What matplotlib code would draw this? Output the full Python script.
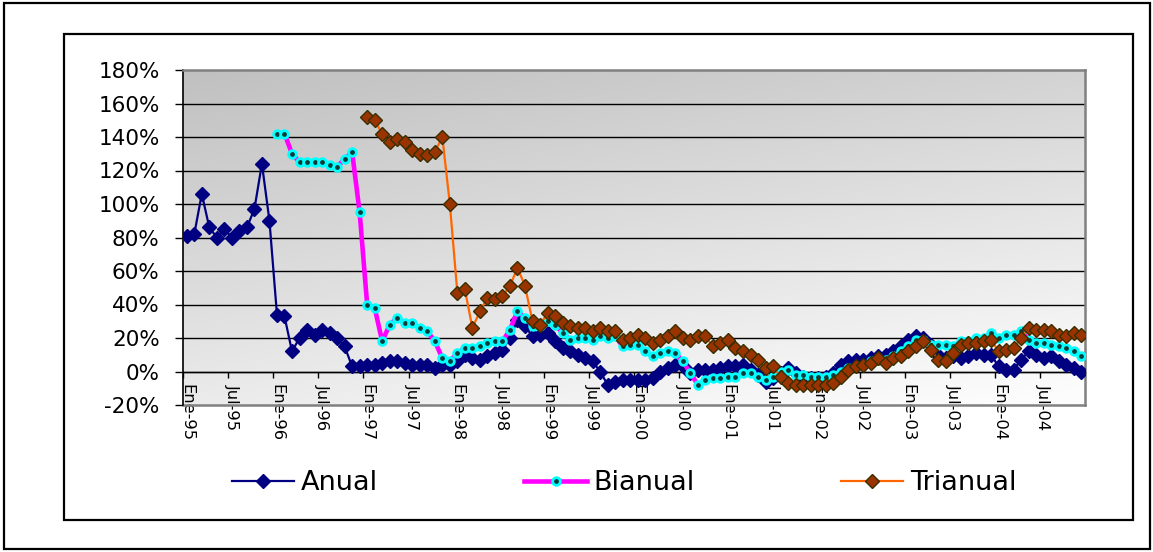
import numpy as np
import matplotlib
matplotlib.use("Agg")
import matplotlib.pyplot as plt
from matplotlib.patches import Rectangle

# ---- data (percent variation, monthly Ene-95 .. Dic-04) ----
month_names = ["Ene", "Feb", "Mar", "Abr", "May", "Jun",
               "Jul", "Ago", "Sep", "Oct", "Nov", "Dic"]
year_codes = ["95", "96", "97", "98", "99", "00", "01", "02", "03", "04"]
periods = [f"{m}-{y}" for y in year_codes for m in month_names]

anual = [
    81, 82, 106, 86, 80, 85, 80, 84, 86, 97, 124, 90,
    34, 33, 12, 20, 25, 22, 25, 23, 20, 15, 3, 3,
    4, 4, 5, 6, 6, 5, 4, 4, 4, 2, 4, 4,
    6, 10, 8, 7, 9, 11, 13, 20, 31, 27, 21, 22,
    23, 18, 14, 12, 10, 8, 6, 0, -8, -6, -5, -5,
    -5, -5, -4, 0, 2, 4, 3, -1, 1, 1, 1, 2,
    3, 3, 4, 1, -2, -6, -4, -1, 2, -1, -3, -4,
    -4, -3, -1, 4, 6, 7, 7, 8, 9, 10, 12, 15,
    19, 21, 20, 16, 10, 8, 9, 8, 9, 11, 10, 10,
    3, 1, 1, 7, 12, 10, 8, 9, 6, 4, 2, 0,
]

# starts Ene-96
bianual = [
    142, 142, 130, 125, 125, 125, 125, 123, 122, 127, 131, 95,
    40, 38, 18, 28, 32, 29, 29, 26, 24, 18, 8, 6,
    11, 14, 14, 15, 17, 18, 18, 25, 36, 32, 27, 27,
    30, 28, 23, 19, 20, 20, 19, 21, 20, 21, 15, 16,
    16, 12, 9, 11, 12, 11, 6, -1, -8, -5, -4, -4,
    -3, -3, -1, -1, -3, -5, -3, 0, 1, -2, -2, -3,
    -3, -3, -2, 0, 2, 3, 4, 6, 7, 7, 9, 12,
    15, 19, 19, 16, 16, 16, 15, 18, 18, 20, 20, 23,
    20, 22, 22, 24, 19, 17, 17, 16, 15, 14, 12, 9,
]

# starts Ene-97
trianual = [
    152, 150, 142, 137, 139, 137, 132, 130, 129, 131, 140, 100,
    47, 49, 26, 36, 44, 43, 45, 51, 62, 51, 30, 28,
    35, 33, 29, 27, 26, 26, 24, 26, 24, 24, 19, 20,
    22, 20, 17, 19, 21, 24, 20, 19, 21, 21, 15, 17,
    19, 14, 12, 10, 7, 2, 3, -3, -7, -8, -8, -8,
    -8, -8, -7, -3, 1, 3, 4, 5, 8, 5, 8, 9,
    12, 15, 18, 13, 7, 6, 11, 16, 17, 17, 18, 19,
    12, 13, 14, 20, 26, 25, 25, 24, 22, 21, 23, 22,
]

series_names = ["Anual", "Bianual", "Trianual"]
y_ticks = list(range(-20, 181, 20))

# ---- figure ----
W, H = 1153, 552
fig = plt.figure(figsize=(W / 100, H / 100), dpi=100)
fig.patch.set_facecolor("white")


def px_rect(left, top, right, bottom, **kw):
    return Rectangle((left / W, 1 - bottom / H), (right - left) / W,
                     (bottom - top) / H, transform=fig.transFigure,
                     fill=False, **kw)


fig.patches.append(px_rect(4, 3, 1150, 549, lw=1.6, edgecolor="black"))
fig.patches.append(px_rect(64, 34, 1133, 520, lw=1.6, edgecolor="black"))

pl, pt, pr, pb = 183, 70, 1085, 405
ax = fig.add_axes([pl / W, 1 - pb / H, (pr - pl) / W, (pb - pt) / H])

n = len(anual)
x_all = np.arange(n)
x_bi = np.arange(n - len(bianual), n)
x_tri = np.arange(n - len(trianual), n)

ax.set_xlim(-0.5, n - 0.5)
ax.set_ylim(y_ticks[0], y_ticks[-1])

# gradient fill of the plot area
gx, gy = np.meshgrid(np.linspace(0, 1, 300), np.linspace(1, 0, 200))
t = np.clip(0.72 * (1 - gy) + 0.32 * gx, 0, 1)
shade = (192 + 60 * t) / 255.0
ax.imshow(np.dstack([shade, shade, shade]), extent=[0, 1, 0, 1],
          transform=ax.transAxes, aspect="auto", zorder=0,
          interpolation="bilinear")

for v in y_ticks[1:-1]:
    ax.axhline(v, color="black", lw=1.0, zorder=1)

ax.plot(x_all, anual, color="#000080", lw=1.6, marker="D", ms=7,
        mfc="#000080", mec="#000080", zorder=3, label=series_names[0])
ax.plot(x_bi, bianual, color="#FF00FF", lw=3.3, marker="o", ms=5.5,
        mfc="#0b3a3a", mec="#00FFFF", mew=2.0, zorder=4,
        label=series_names[1])
ax.plot(x_tri, trianual, color="#FF6600", lw=1.6, marker="D", ms=7.2,
        mfc="#993300", mec="#3a2e00", mew=1.0, zorder=5,
        label=series_names[2])

# frame
for s in ("top", "right"):
    ax.spines[s].set_color("#808080")
    ax.spines[s].set_linewidth(1.8)
ax.spines["left"].set_color("black")
ax.spines["left"].set_linewidth(1.2)
ax.spines["bottom"].set_position(("data", 0))
ax.spines["bottom"].set_color("black")
ax.spines["bottom"].set_linewidth(1.0)
ax.axhline(y_ticks[0], color="#808080", lw=1.8, zorder=2, clip_on=False)

# y axis
ax.set_yticks(y_ticks)
ax.set_yticklabels([f"{v}%" for v in y_ticks], fontsize=15.5,
                   family="DejaVu Sans")
ax.tick_params(axis="y", direction="out", length=5.8, width=1.0, pad=11)

# x axis: ticks between months, labels every six months
ax.set_xticks(np.arange(-0.5, n, 6))
ax.set_xticklabels([])
ax.set_xticks(np.arange(0, n, 6), minor=True)
ax.set_xticklabels(periods[::6], minor=True, rotation=270, fontsize=11.8,
                   family="DejaVu Sans")
ax.tick_params(axis="x", which="major", direction="out", length=4.5,
               width=1.0)
ax.tick_params(axis="x", which="minor", length=0, pad=9.0)

# legend
fig.legend(loc="center left", bbox_to_anchor=(232 / W, 1 - 483 / H),
           ncol=3, frameon=False, handlelength=2.3,
           handletextpad=0.25, columnspacing=5.4, borderpad=0,
           borderaxespad=0, prop={"family": "DejaVu Sans", "size": 19.5})

fig.savefig("out.png", dpi=100)
